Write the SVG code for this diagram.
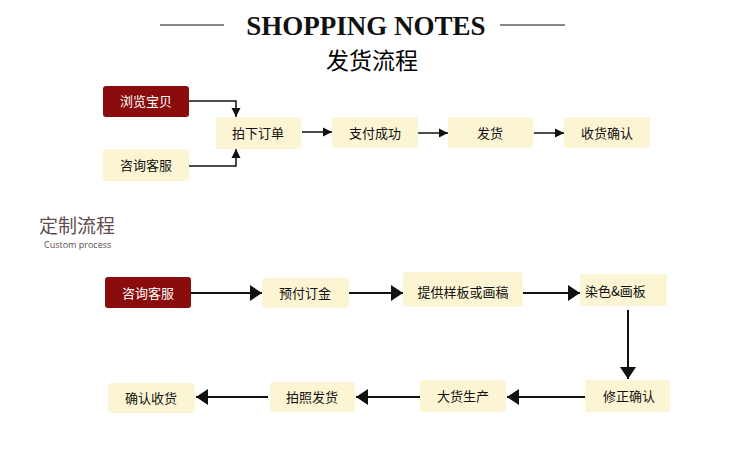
<svg xmlns="http://www.w3.org/2000/svg" width="750" height="452" viewBox="0 0 750 452">
<defs>
<style>
.cream{fill:#fcf5d4}
.red{fill:#8a0c0c}
.t{font-family:"Noto Sans CJK SC","Noto Sans",sans-serif;font-size:13px;fill:#111;text-anchor:middle}
.tw{fill:#fff}
.ln{stroke:#111;stroke-width:2;fill:none}
.ln1{stroke:#111;stroke-width:1.5;fill:none}
</style>
<marker id="a1" markerWidth="10" markerHeight="10" refX="9" refY="5" orient="auto" markerUnits="userSpaceOnUse"><path d="M0,0.5 L9,5 L0,9.5 Z" fill="#111"/></marker>
<marker id="a2" markerWidth="14" markerHeight="16" refX="12" refY="8" orient="auto" markerUnits="userSpaceOnUse"><path d="M0,0 L12,8 L0,16 Z" fill="#111"/></marker>
</defs>
<rect width="750" height="452" fill="#fff"/>
<g id="title">
<line x1="160" y1="25" x2="224" y2="25" stroke="#111" stroke-width="1"/>
<line x1="500" y1="25" x2="565" y2="25" stroke="#111" stroke-width="1"/>
<text x="366" y="35" font-family="Liberation Serif,serif" font-weight="bold" font-size="27" text-anchor="middle" fill="#111">SHOPPING NOTES</text>
<text x="372" y="69" font-family="Noto Sans CJK SC,sans-serif" font-size="23" text-anchor="middle" fill="#000">发货流程</text>
</g>
<g id="subtitle">
<text x="39" y="233" font-family="Noto Sans CJK SC,sans-serif" font-size="19" fill="#5e4e4e">定制流程</text>
<text x="44" y="248" font-family="Open Sans,Noto Sans,sans-serif" font-size="9" fill="#5e4e4e">Custom process</text>
</g>
<g id="n1"><rect class="red" x="103" y="86" width="86" height="31" rx="3"/><text class="t tw" x="146" y="106">浏览宝贝</text></g>
<g id="n2"><rect class="cream" x="103" y="149" width="86" height="32" rx="3"/><text class="t" x="146" y="170">咨询客服</text></g>
<g id="n3"><rect class="cream" x="216" y="117" width="85" height="32" rx="3"/><text class="t" x="258" y="138">拍下订单</text></g>
<g id="n4"><rect class="cream" x="332" y="117" width="86" height="31" rx="3"/><text class="t" x="375" y="138">支付成功</text></g>
<g id="n5"><rect class="cream" x="448" y="117" width="85" height="31" rx="3"/><text class="t" x="490" y="138">发货</text></g>
<g id="n6"><rect class="cream" x="564" y="117" width="86" height="31" rx="3"/><text class="t" x="607" y="138">收货确认</text></g>
<g id="m1"><rect class="red" x="105" y="277" width="86" height="31" rx="3"/><text class="t tw" x="148" y="298">咨询客服</text></g>
<g id="m2"><rect class="cream" x="262" y="278" width="87" height="30" rx="3"/><text class="t" x="305" y="298">预付订金</text></g>
<g id="m3"><rect class="cream" x="403" y="272" width="120" height="35" rx="3"/><text class="t" x="463" y="297">提供样板或画稿</text></g>
<g id="m4"><rect class="cream" x="580" y="274" width="87" height="32" rx="3"/><text class="t" x="585" y="296" style="text-anchor:start">染色&amp;画板</text></g>
<g id="m5"><rect class="cream" x="585" y="380" width="85" height="32" rx="3"/><text class="t" x="629" y="401">修正确认</text></g>
<g id="m6"><rect class="cream" x="420" y="380" width="86" height="32" rx="3"/><text class="t" x="463" y="401">大货生产</text></g>
<g id="m7"><rect class="cream" x="270" y="382" width="85" height="30" rx="3"/><text class="t" x="312" y="402">拍照发货</text></g>
<g id="m8"><rect class="cream" x="108" y="383" width="87" height="30" rx="3"/><text class="t" x="151" y="403">确认收货</text></g>
<g id="connectors">
<path class="ln1" d="M189,101 H236 V117" marker-end="url(#a1)"/>
<path class="ln1" d="M189,166 H236 V149" marker-end="url(#a1)"/>
<path class="ln1" d="M302,132 H332" marker-end="url(#a1)"/>
<path class="ln1" d="M418,133 H448" marker-end="url(#a1)"/>
<path class="ln1" d="M534,133 H564" marker-end="url(#a1)"/>
<path class="ln" d="M191,293 H262" marker-end="url(#a2)"/>
<path class="ln" d="M349,293 H403" marker-end="url(#a2)"/>
<path class="ln" d="M523,293 H580" marker-end="url(#a2)"/>
<path class="ln" d="M628,310 V379" marker-end="url(#a2)"/>
<path class="ln" d="M585,397 H507" marker-end="url(#a2)"/>
<path class="ln" d="M420,397 H356" marker-end="url(#a2)"/>
<path class="ln" d="M268,397 H196" marker-end="url(#a2)"/>
</g>
</svg>
